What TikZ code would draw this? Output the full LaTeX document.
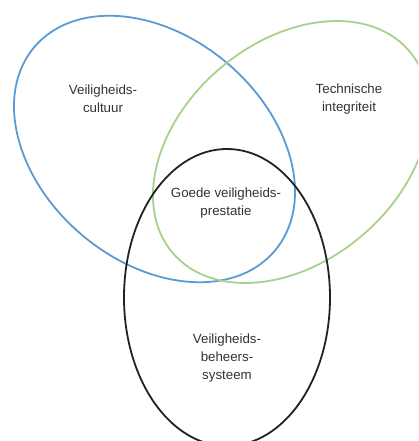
\documentclass[tikz,border=0pt]{standalone}
\usepackage{fontspec}
\setmainfont{Liberation Sans}
\definecolor{vblue}{HTML}{5B9BD5}
\definecolor{vgreen}{HTML}{A9D18E}
\definecolor{vblack}{HTML}{222222}
\definecolor{vtext}{HTML}{333333}
\begin{document}
\begin{tikzpicture}[x=1pt,y=1pt,
  ring/.style={line width=1.8pt},
  lbl/.style={align=center,text=vtext,inner sep=0pt,
    font=\fontsize{13.3}{18.3}\selectfont}]
\clip (0,0) rectangle (418,441);
\fill[white] (0,0) rectangle (418,441);
\draw[ring,vblue,rotate around={-40.3:(154.5,292)}] (154.5,292) ellipse [x radius=157.6, y radius=112.5];
\draw[ring,vgreen,rotate around={40.5:(291,289)}] (291,289) ellipse [x radius=155.5, y radius=109.7];
\draw[ring,vblack] (227,143.5) ellipse [x radius=103, y radius=148.5];
\node[lbl] (cultuur) at (103,342) {Veiligheids-\\cultuur};
\node[lbl] (techniek) at (349,342) {Technische\\integriteit};
\node[lbl] (prestatie) at (226,238) {Goede veiligheids-\\prestatie};
\node[lbl] (systeem) at (227,83) {Veiligheids-\\beheers-\\systeem};
\end{tikzpicture}
\end{document}
